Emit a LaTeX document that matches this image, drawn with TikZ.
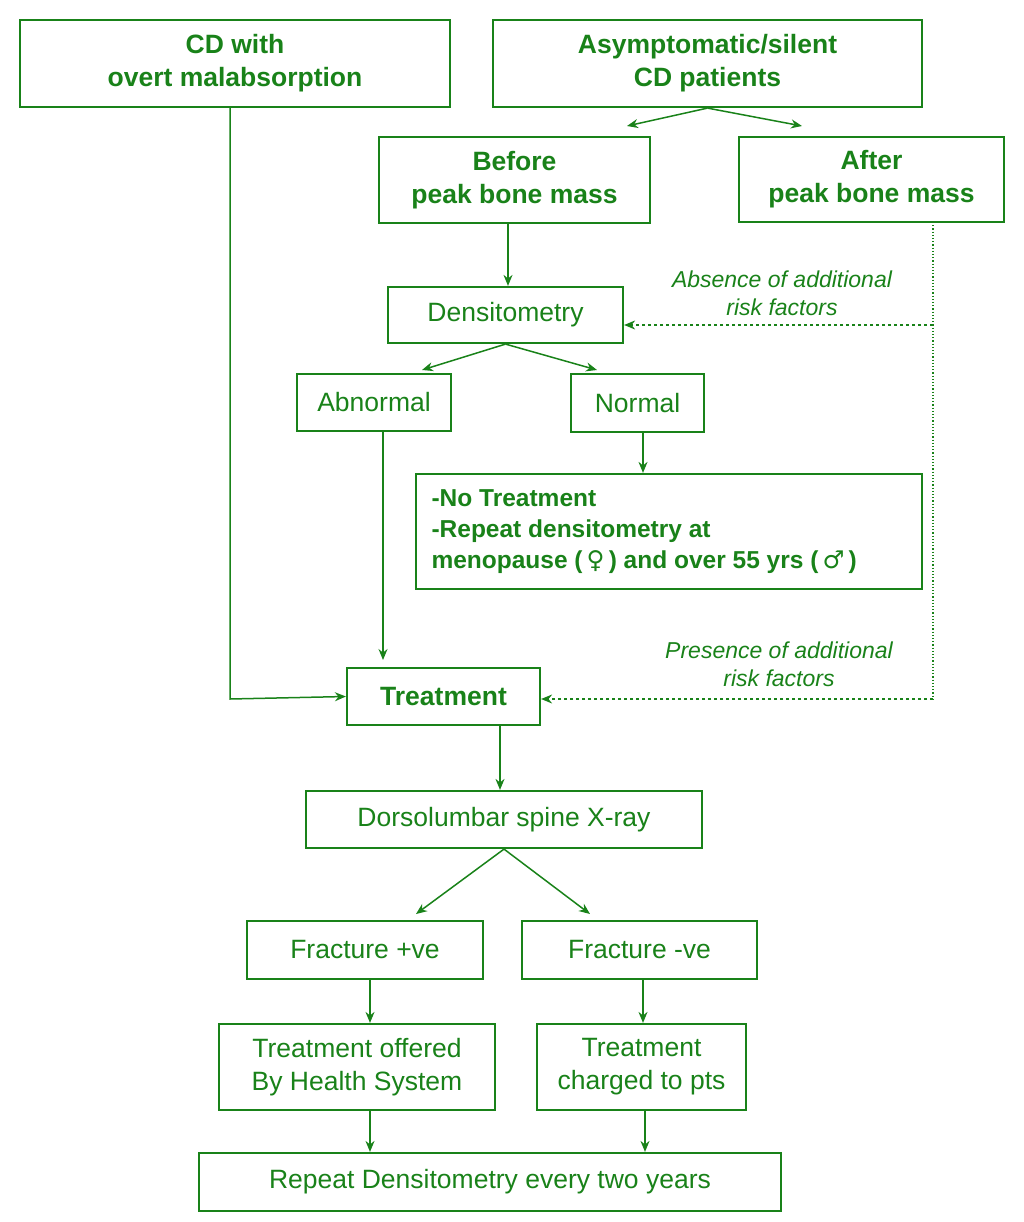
\documentclass[tikz,border=0pt]{standalone}
\usepackage{fontspec}
\setmainfont{Liberation Sans}
\newfontfamily\symf{DejaVu Sans}
\usetikzlibrary{arrows.meta}
\definecolor{gr}{RGB}{25,130,25}
\begin{document}
\begin{tikzpicture}[x=1pt,y=-1pt,
 box/.style={draw=gr,line width=2.2pt,text=gr,inner sep=0pt,align=center,font=\fontsize{26.5}{33}\selectfont},
 bb/.style={box,font=\bfseries\fontsize{26.5}{33}\selectfont},
 arr/.style={draw=gr,line width=1.5pt,-{Stealth[length=11pt,width=9pt]}},
 lab/.style={text=gr,font=\itshape\fontsize{23}{28}\selectfont,align=center}]
\useasboundingbox (0,0) rectangle (1024,1222);
\newcommand\bx[6]{\node[#1,minimum width=#4-#2,minimum height=#5-#3] (#6) at ({(#2+#4)/2},{(#3+#5)/2})}
\bx{bb}{20}{20}{450}{107}{cd} {CD with\\overt malabsorption};
\bx{bb}{493}{20}{922}{107}{asy} {Asymptomatic/silent\\CD patients};
\bx{bb}{379}{137}{650}{223}{bef} {Before\\peak bone mass};
\bx{bb}{739}{137}{1004}{222}{aft} {After\\peak bone mass};
\bx{box}{388}{287}{623}{343}{den} {Densitometry};
\bx{box}{297}{374}{451}{431}{abn} {Abnormal};
\bx{box}{571}{374}{704}{432}{nor} {Normal};
\bx{box}{416}{474}{922}{589}{no} {};
\node[text=gr,align=left,anchor=west,font=\bfseries\fontsize{24.5}{31}\selectfont] at (428,532) {-No Treatment\\-Repeat densitometry at\\menopause (\,{\symf\mdseries ♀}\,) and over 55 yrs (\,{\symf\mdseries ♂}\,)};
\bx{bb}{347}{668}{540}{725}{tr} {Treatment};
\bx{box}{306}{791}{702}{848}{dor} {Dorsolumbar spine X-ray};
\bx{box}{247}{921}{483}{979}{fp} {Fracture +ve};
\bx{box}{522}{921}{757}{979}{fn} {Fracture -ve};
\bx{box}{219}{1024}{495}{1110}{off} {Treatment offered\\By Health System};
\bx{box}{537}{1024}{746}{1110}{chg} {Treatment\\charged to pts};
\bx{box}{199}{1153}{781}{1211}{rep} {Repeat Densitometry every two years};
\coordinate (a1) at (627,126); \coordinate (a2) at (802,126);
\draw[arr] (asy.south) -- (a1); \draw[arr] (asy.south) -- (a2);
\draw[arr] (bef.south -| 508,0) -- (den.north -| 508,0);
\coordinate (d1) at (422,370); \coordinate (d2) at (597,370);
\draw[arr] (den.south) -- (d1); \draw[arr] (den.south) -- (d2);
\draw[arr] (nor.south -| 643,0) -- (no.north -| 643,0);
\draw[arr] (abn.south -| 383,0) -- (383,660);
\coordinate (c1) at (230,107); \coordinate (c2) at (230,699);
\draw[arr] (c1) -- (c2) -- (tr.west);
\coordinate (f1) at (933,222); \coordinate (f2) at (933,325); \coordinate (f3) at (933,699);
\draw[gr,line width=1.2pt,dotted] (f1) -- (f3);
\draw[arr,dashed] (f2) -- (den.east |- f2);
\draw[arr,dashed] (f3) -- (tr.east |- f3);
\node[lab] at (782,293) {Absence of additional\\risk factors};
\node[lab] at (779,664) {Presence of additional\\risk factors};
\draw[arr] (tr.south -| 500,0) -- (dor.north -| 500,0);
\coordinate (x1) at (416,914); \coordinate (x2) at (590,914);
\draw[arr] (dor.south) -- (x1); \draw[arr] (dor.south) -- (x2);
\draw[arr] (fp.south -| 370,0) -- (off.north -| 370,0);
\draw[arr] (fn.south -| 643,0) -- (chg.north -| 643,0);
\draw[arr] (off.south -| 370,0) -- (rep.north -| 370,0);
\draw[arr] (chg.south -| 645,0) -- (rep.north -| 645,0);
\end{tikzpicture}
\end{document}
